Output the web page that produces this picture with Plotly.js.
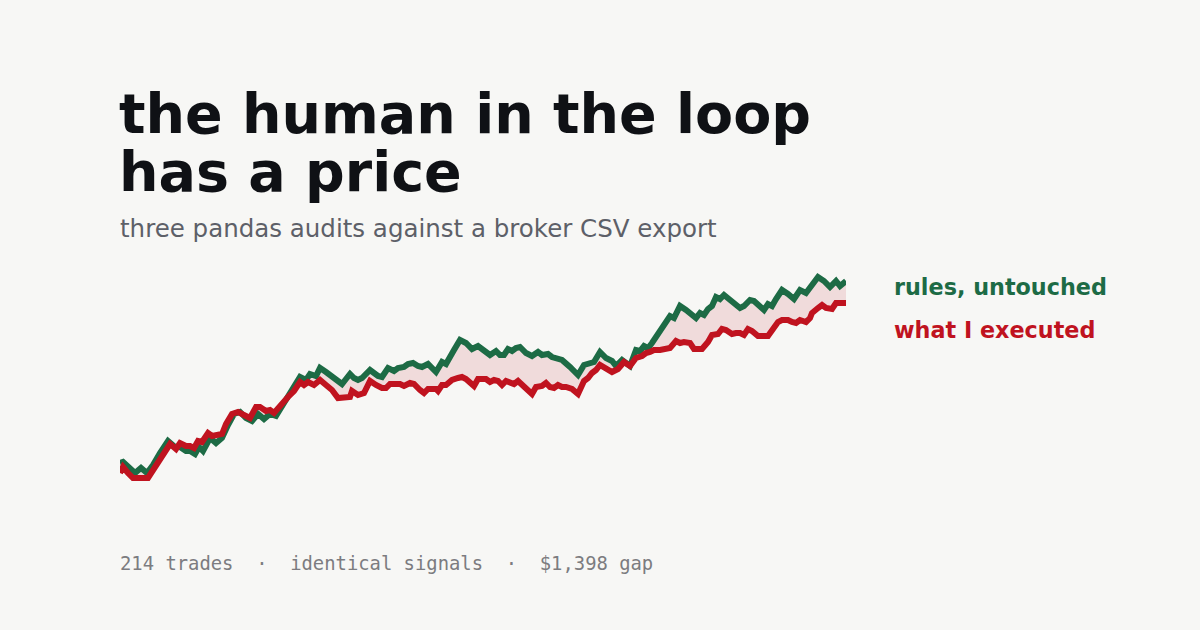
<!DOCTYPE html>
<html>
<head>
<meta charset="utf-8">
<script src="https://cdn.plot.ly/plotly-3.0.1.min.js"></script>
<style>
html,body{margin:0;padding:0;background:#f7f7f5;}
#chart{width:1200px;height:630px;}
</style>
</head>
<body>
<div id="chart"></div>
<script>
// trade progress (x) and equity level (y, chart units)
const rulesX = [0,3,15,21,27,33,40,48,55,60,66,70,75,79,83,90,96,102,108,114,120,126,132,138,144,150,156,162,168,174,180,186,190,196,200,206,212,218,222,226,230,234,238,242,250,258,262,268,274,278,284,288,293,298,302,308,316,322,326,334,340,346,352,358,364,370,376,380,384,388,392,396,400,406,412,418,422,428,432,436,442,450,458,464,470,474,480,486,492,496,502,510,516,520,524,528,532,536,540,546,550,554,560,566,570,576,580,584,588,592,596,600,604,610,616,620,624,630,634,640,644,648,652,656,662,668,674,680,686,692,698,704,710,716,720,726];
const rulesY = [37,38,27,32,27,35,47,59,53,53,49,49,46,53,49,62,57,62,75,86,88,82,79,86,81,86,84,94,103,113,123,120,126,124,132,128,123,119,116,121,126,122,120,122,130,124,123,132,129,132,133,136,137,134,133,136,128,138,136,150,160,157,151,154,149,145,149,145,145,151,149,152,153,147,144,148,145,146,143,142,140,133,125,135,137,138,148,142,139,134,140,134,150,149,154,152,157,163,167,176,184,182,194,190,186,182,187,185,191,194,203,201,205,200,196,192,194,200,199,194,190,196,194,201,210,206,201,210,207,215,223,219,213,219,214,219];

const execX = [0,3,8,13,28,34,40,46,50,56,60,66,70,74,78,82,88,92,98,102,106,112,118,124,130,136,140,146,150,154,158,162,168,174,180,184,188,194,200,206,212,218,226,230,232,238,244,250,256,262,266,270,280,284,290,294,300,304,308,316,318,322,326,332,338,342,346,354,358,366,370,374,378,382,386,390,394,398,404,412,416,422,426,430,434,438,442,446,452,458,464,468,472,476,480,486,492,498,504,510,516,522,526,530,534,540,546,550,556,560,564,570,574,582,588,592,598,602,606,612,616,620,624,628,632,638,648,654,658,662,668,672,676,680,686,690,692,698,702,706,712,716,726];
const execY = [27,33,27,22,22,32,40,51,56,51,57,54,54,52,59,58,67,64,66,66,76,86,88,85,82,93,93,89,90,87,92,95,103,109,118,115,118,115,120,115,110,102,102,103,109,105,107,119,115,112,112,116,116,114,117,116,110,107,111,111,109,115,115,120,122,123,121,114,121,121,118,120,119,115,119,118,116,119,113,106,113,114,117,113,112,115,113,113,111,106,119,122,127,130,135,132,128,131,138,134,142,144,147,148,150,150,152,152,159,157,158,157,151,151,158,165,166,171,170,166,167,167,165,171,169,164,164,173,178,180,180,178,177,180,178,182,187,192,195,192,191,197,197];

const seriesNames = ["rules, untouched", "what I executed"];
const titleLines = ["the human in the loop", "has a price"];
const subtitle = "three pandas audits against a broker CSV export";
const footer = "214 trades\u00a0\u00a0·\u00a0\u00a0identical signals\u00a0\u00a0·\u00a0\u00a0$1,398 gap";

const GREEN = "#1d6b45", RED = "#c0131f";

const traces = [
  {x: rulesX, y: rulesY, name: seriesNames[0], mode: "lines",
   line: {color: GREEN, width: 6, shape: "linear"}, hoverinfo: "skip"},
  {x: execX, y: execY, name: seriesNames[1], mode: "lines", fill: "tonexty",
   fillcolor: "rgba(192,19,31,0.12)",
   line: {color: RED, width: 6, shape: "linear"}, hoverinfo: "skip"}
];

const Y = p => (485 - p) / 215;
const X = p => (p - 120) / 726;

const layout = {
  width: 1200, height: 630,
  paper_bgcolor: "#f7f7f5", plot_bgcolor: "#f7f7f5",
  margin: {l: 120, r: 354, t: 270, b: 145},
  showlegend: false,
  xaxis: {range: [0, 726], visible: false, fixedrange: true},
  yaxis: {range: [15, 230], visible: false, fixedrange: true},
  annotations: [
    {text: titleLines[0], xref: "paper", yref: "paper", x: X(117), y: Y(113), xanchor: "left", yanchor: "middle", showarrow: false,
     font: {family: "DejaVu Sans", size: 55.5, color: "#0f1115", weight: "bold"}},
    {text: titleLines[1], xref: "paper", yref: "paper", x: X(117), y: Y(171), xanchor: "left", yanchor: "middle", showarrow: false,
     font: {family: "DejaVu Sans", size: 55.5, color: "#0f1115", weight: "bold"}},
    {text: subtitle, xref: "paper", yref: "paper", x: X(118), y: Y(228.5), xanchor: "left", yanchor: "middle", showarrow: false,
     font: {family: "DejaVu Sans", size: 24.5, color: "#5d6068"}},
    {text: seriesNames[0], xref: "paper", yref: "paper", x: X(892), y: Y(286.5), xanchor: "left", yanchor: "middle", showarrow: false,
     font: {family: "DejaVu Sans", size: 22.3, color: GREEN, weight: "bold"}},
    {text: seriesNames[1], xref: "paper", yref: "paper", x: X(892), y: Y(329.5), xanchor: "left", yanchor: "middle", showarrow: false,
     font: {family: "DejaVu Sans", size: 22.3, color: RED, weight: "bold"}},
    {text: footer, xref: "paper", yref: "paper", x: X(118), y: Y(563), xanchor: "left", yanchor: "middle", showarrow: false,
     font: {family: "DejaVu Sans Mono", size: 18.85, color: "#7c7c80"}}
  ]
};

Plotly.newPlot("chart", traces, layout, {staticPlot: true, displayModeBar: false});
</script>
</body>
</html>
